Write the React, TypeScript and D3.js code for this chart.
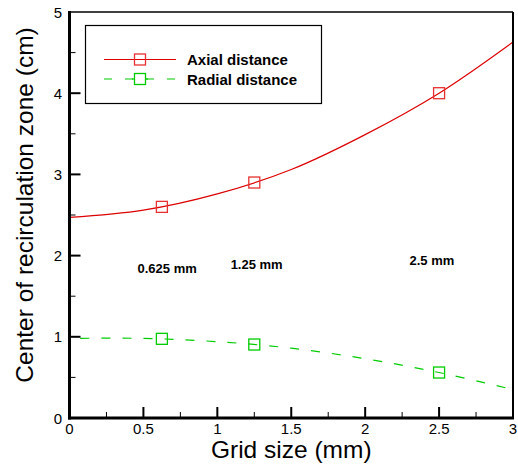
import React from "react";
import * as d3 from "d3";

const W = 518;
const H = 465;

// Measured markers
const gridSizes = [0.625, 1.25, 2.5];
const axialValues = [2.6, 2.9, 4.0];
const radialValues = [0.975, 0.905, 0.56];

// Fitted curves
const curveX = [0, 0.5, 1.0, 1.5, 2.0, 2.5, 3.0];
const axialCurve = [2.47, 2.56, 2.76, 3.06, 3.49, 4.0, 4.63];
const radialCurve = [0.98, 0.98, 0.94, 0.86, 0.73, 0.56, 0.35];

const xMajor = [0, 0.5, 1, 1.5, 2, 2.5, 3];
const xTickLabels = ["0", "0.5", "1", "1.5", "2", "2.5", "3"];
const xMinor = [0.25, 0.75, 1.25, 1.75, 2.25, 2.75];
const yMajor = [0, 1, 2, 3, 4, 5];
const yTickLabels = ["0", "1", "2", "3", "4", "5"];
const yMinor = [0.5, 1.5, 2.5, 3.5, 4.5];

const annotations = [
  { label: "0.625 mm", x: 0.46, y: 1.78 },
  { label: "1.25 mm", x: 1.09, y: 1.83 },
  { label: "2.5 mm", x: 2.3, y: 1.89 },
];

const seriesNames = ["Axial distance", "Radial distance"];

const FONT = "Arial, 'Liberation Sans', Helvetica, sans-serif";
const RED = "#dd0000";
const RED_M = "#e83030";
const GREEN = "#00cc00";

export default function App() {
  const left = 69.5;
  const right = 513;
  const top = 12;
  const bottom = 418;

  const x = d3.scaleLinear().domain([0, 3]).range([left, right]);
  const y = d3.scaleLinear().domain([0, 5]).range([bottom, top]);

  const line = d3
    .line<number>()
    .x((_, i) => x(curveX[i]))
    .curve(d3.curveCatmullRom.alpha(0.5));

  const axialPath = line.y((d) => y(d))(axialCurve) || "";
  const radialPath = line.y((d) => y(d))(radialCurve) || "";

  const ms = 11;
  const dash = "9,12";

  return (
    <svg
      width={W}
      height={H}
      style={{ position: "absolute", left: 0, top: 0, background: "#fff" }}
      fontFamily={FONT}
    >
      <defs>
        <clipPath id="plot">
          <rect x={left} y={top} width={right - left} height={bottom - top} />
        </clipPath>
      </defs>
      <rect width={W} height={H} fill="#fff" />

      {/* curves */}
      <g clipPath="url(#plot)">
        <path d={axialPath} fill="none" stroke={RED} strokeWidth={1.2} />
        <path
          d={radialPath}
          fill="none"
          stroke={GREEN}
          strokeWidth={1.2}
          strokeDasharray={dash}
          strokeDashoffset={10}
        />
      </g>

      {/* markers */}
      {gridSizes.map((g, i) => (
        <rect
          key={"a" + i}
          x={x(g) - ms / 2}
          y={y(axialValues[i]) - ms / 2}
          width={ms}
          height={ms}
          fill="none"
          stroke={RED_M}
          strokeWidth={1.3}
        />
      ))}
      {gridSizes.map((g, i) => (
        <rect
          key={"r" + i}
          x={x(g) - ms / 2}
          y={y(radialValues[i]) - ms / 2}
          width={ms}
          height={ms}
          fill="none"
          stroke={GREEN}
          strokeWidth={1.3}
        />
      ))}

      {/* frame */}
      <line x1={left} y1={top} x2={right} y2={top} stroke="#000" strokeWidth={1.5} />
      <line x1={right} y1={top} x2={right} y2={bottom} stroke="#000" strokeWidth={2} />
      <line x1={left} y1={top - 1} x2={left} y2={bottom + 1.5} stroke="#000" strokeWidth={3} />
      <line x1={left - 1.5} y1={bottom} x2={right + 1} y2={bottom} stroke="#000" strokeWidth={3} />

      {/* x ticks */}
      {xMajor.map((t, i) => (
        <g key={"xt" + i}>
          {i > 0 && i < xMajor.length - 1 && (
            <line x1={x(t)} x2={x(t)} y1={bottom} y2={bottom - 11} stroke="#000" strokeWidth={2} />
          )}
          <text x={x(t)} y={434} fontSize={15} textAnchor="middle" fill="#000">
            {xTickLabels[i]}
          </text>
        </g>
      ))}
      {xMinor.map((t, i) => (
        <line key={"xm" + i} x1={x(t)} x2={x(t)} y1={bottom} y2={bottom - 6} stroke="#000" strokeWidth={1} />
      ))}

      {/* y ticks */}
      {yMajor.map((t, i) => (
        <g key={"yt" + i}>
          {i > 0 && i < yMajor.length - 1 && (
            <line x1={left} x2={left + 11} y1={y(t)} y2={y(t)} stroke="#000" strokeWidth={2} />
          )}
          <text x={62} y={y(t) + 5.5} fontSize={15} textAnchor="end" fill="#000">
            {yTickLabels[i]}
          </text>
        </g>
      ))}
      {yMinor.map((t, i) => (
        <line key={"ym" + i} x1={left} x2={left + 6} y1={y(t)} y2={y(t)} stroke="#000" strokeWidth={1} />
      ))}

      {/* axis titles */}
      <text x={(left + right) / 2} y={458} fontSize={24.5} textAnchor="middle" fill="#000">
        Grid size (mm)
      </text>
      <text
        transform={`translate(33,${205}) rotate(-90)`}
        fontSize={24.5}
        textAnchor="middle"
        fill="#000"
      >
        Center of recirculation zone (cm)
      </text>

      {/* annotations */}
      {annotations.map((a, i) => (
        <text key={"an" + i} x={x(a.x)} y={y(a.y)} fontSize={13} fontWeight="bold" fill="#000">
          {a.label}
        </text>
      ))}

      {/* legend */}
      <rect x={85.5} y={25.5} width={236} height={78} fill="#fff" stroke="#000" strokeWidth={1.2} />
      <line x1={104} x2={176} y1={59.5} y2={59.5} stroke={RED} strokeWidth={1.2} />
      <rect x={140 - ms / 2} y={59.5 - ms / 2} width={ms} height={ms} fill="none" stroke={RED_M} strokeWidth={1.3} />
      <text x={187} y={65} fontSize={15} fontWeight="bold" fill="#000">
        {seriesNames[0]}
      </text>
      <line
        x1={104}
        x2={176}
        y1={79}
        y2={79}
        stroke={GREEN}
        strokeWidth={1.2}
        strokeDasharray="8,13"
      />
      <line x1={132} x2={148} y1={79} y2={79} stroke={GREEN} strokeWidth={1.2} />
      <rect x={140 - ms / 2} y={79 - ms / 2} width={ms} height={ms} fill="#fff" stroke={GREEN} strokeWidth={1.3} />
      <text x={187} y={85} fontSize={15} fontWeight="bold" fill="#000">
        {seriesNames[1]}
      </text>
    </svg>
  );
}
